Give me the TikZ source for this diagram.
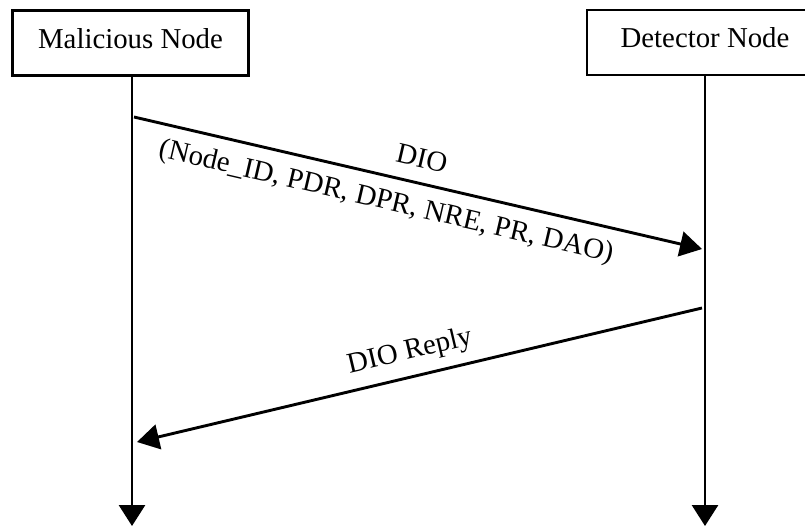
\documentclass[tikz,border=0pt]{standalone}
\usepackage{fontspec}
\setmainfont{Liberation Serif}
\usetikzlibrary{arrows.meta}
\begin{document}
\begin{tikzpicture}[x=1pt,y=-1pt,
  actor/.style={draw, line width=2.8pt, minimum width=236pt, minimum height=65pt,
    inner sep=0pt, text height=20pt, text depth=10pt,
    font=\fontsize{28.8}{34}\selectfont},
  lifeline/.style={line width=2.9pt, -{Triangle[length=21pt,width=26pt]}},
  msg/.style={line width=2.9pt, -{Triangle[length=22pt,width=25pt]}},
  lbl/.style={inner sep=0pt, font=\fontsize{28.8}{34}\selectfont}]
\useasboundingbox (0,0) rectangle (805,525);
\clip (0,0) rectangle (805,525);

% participants
\node[actor] (mal) at (130.5,43) {Malicious Node};
\node[actor] (det) at (705,42.5) {Detector Node};

% lifelines
\coordinate (malEnd) at (132,526);
\coordinate (detEnd) at (705,526);
\draw[lifeline] (mal.south -| malEnd) -- (malEnd);
\draw[lifeline] (det.south -| detEnd) -- (detEnd);

% message end points on the lifelines
\coordinate (dioFrom) at (134,117);
\coordinate (dioTo) at (702,249);
\coordinate (replyFrom) at (702,308);
\coordinate (replyTo) at (137,442);

% messages
\draw[msg] (dioFrom) -- (dioTo);
\draw[msg] (replyFrom) -- (replyTo);

% message labels
\node[lbl, rotate=-13.08] (dioName) at (422,158) {DIO};
\node[lbl, rotate=-13.08] (dioFields) at (386,202.5) {(Node\_ID, PDR, DPR, NRE, PR, DAO)};
\node[lbl, rotate=13.34] (replyName) at (410,352) {DIO Reply};
\end{tikzpicture}
\end{document}
